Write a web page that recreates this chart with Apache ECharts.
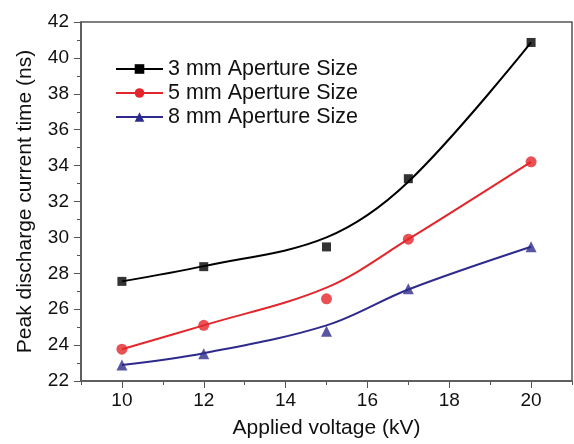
<!DOCTYPE html>
<html>
<head>
<meta charset="utf-8">
<script src="https://cdn.jsdelivr.net/npm/echarts@6/dist/echarts.min.js"></script>
<style>
  html, body { margin: 0; padding: 0; background: #fff; }
  #main { width: 574px; height: 444px; }
</style>
</head>
<body>
<div id="main"></div>
<script>
// measured points
var voltage = [10, 12, 15, 17, 20];
var pts3 = [27.55, 28.37, 29.47, 33.27, 40.86];
var pts5 = [23.77, 25.1, 26.58, 29.9, 34.21];
var pts8 = [22.89, 23.52, 24.77, 27.14, 29.48];
// fitted curve, read at the same voltages
var fit3 = [27.55, 28.4, 30.0, 33.1, 40.86];
var fit5 = [23.77, 25.1, 27.2, 29.9, 34.21];
var fit8 = [22.89, 23.55, 25.1, 27.1, 29.48];

var names = ['3 mm Aperture Size', '5 mm Aperture Size', '8 mm Aperture Size'];
var colors = ['#000000', '#e3262b', '#2e2a8c'];
var symbols = ['rect', 'circle', 'triangle'];
var xMajor = [10, 12, 14, 16, 18, 20];

function pairs(ys) {
    return voltage.map(function (v, i) { return [v, ys[i]]; });
}

var fits = [fit3, fit5, fit8];
var pts = [pts3, pts5, pts8];
var series = [];
for (var i = 0; i < 3; i++) {
    series.push({
        name: names[i],
        type: 'line',
        smooth: 0.35,
        data: pairs(fits[i]),
        symbol: symbols[i],
        showSymbol: false,
        color: colors[i],
        lineStyle: { color: colors[i], width: 2 },
        itemStyle: { color: colors[i] },
        z: 2
    });
}
for (var j = 0; j < 3; j++) {
    series.push({
        name: 'pts' + j,
        type: 'scatter',
        data: pairs(pts[j]),
        symbol: symbols[j],
        symbolSize: j === 0 ? 9 : 11,
        itemStyle: { color: colors[j] },
        z: 3
    });
}

var font = 'Liberation Sans, Arial, sans-serif';
var axisCol = '#555';
var myChart = echarts.init(document.getElementById('main'));
myChart.setOption({
    animation: false,
    backgroundColor: '#fff',
    grid: {
        left: 81, top: 22, right: 2, bottom: 61,
        show: true, borderColor: axisCol, borderWidth: 1.5
    },
    legend: {
        data: names,
        orient: 'vertical',
        left: 115, top: 58, padding: 0,
        itemWidth: 47, itemHeight: 12, itemGap: 2,
        textStyle: { fontFamily: font, fontSize: 21.5, lineHeight: 21.5, color: '#111' }
    },
    xAxis: [{
        type: 'value',
        min: 9, max: 21, interval: 1,
        name: 'Applied voltage (kV)',
        nameLocation: 'middle', nameGap: 37,
        nameTextStyle: { fontFamily: font, fontSize: 21, color: '#111' },
        axisLine: { lineStyle: { color: axisCol, width: 1.5 } },
        axisTick: { customValues: xMajor, length: 7, lineStyle: { color: axisCol } },
        axisLabel: { customValues: xMajor, margin: 10, fontFamily: font, fontSize: 19, color: '#111' },
        splitLine: { show: false }
    }, {
        type: 'value',
        min: 9, max: 21, interval: 1,
        position: 'bottom',
        axisLine: { show: false },
        axisTick: { length: 4, lineStyle: { color: axisCol } },
        axisLabel: { show: false },
        splitLine: { show: false }
    }],
    yAxis: {
        type: 'value',
        min: 22, max: 42, interval: 2,
        name: 'Peak discharge current time (ns)',
        nameLocation: 'middle', nameGap: 45,
        nameTextStyle: { fontFamily: font, fontSize: 21, color: '#111' },
        axisLine: { show: true, lineStyle: { color: axisCol, width: 1.5 } },
        axisTick: { show: true, length: 7, lineStyle: { color: axisCol } },
        minorTick: { show: true, splitNumber: 2, length: 4, lineStyle: { color: axisCol } },
        axisLabel: { margin: 12, fontFamily: font, fontSize: 19, color: '#111' },
        splitLine: { show: false }
    },
    series: series
});
</script>
</body>
</html>
